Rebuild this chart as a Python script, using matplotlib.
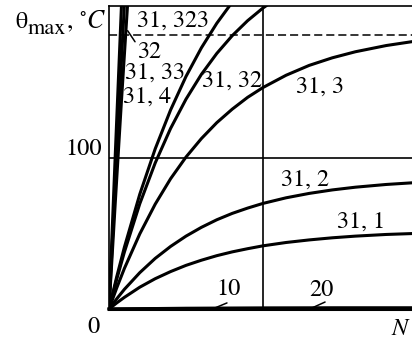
import matplotlib
matplotlib.use("Agg")
import matplotlib.pyplot as plt

plt.rcParams['font.family'] = ['STIXGeneral', 'DejaVu Serif']
plt.rcParams['mathtext.fontset'] = 'stix'

# Heating curves: maximum temperature vs. N, one curve per parameter value
n_slow = [0, 5, 10, 20, 30, 40, 50, 60, 70, 80, 90, 100, 115, 130, 145, 160, 180, 197]
theta_31_1 = [0, 4.0, 7.7, 14.4, 20.0, 24.7, 28.8, 32.2, 35.2, 37.7, 39.8, 41.7,
              43.9, 45.6, 47.0, 48.1, 49.2, 49.8]
theta_31_2 = [0, 6.7, 13.0, 24.0, 33.4, 41.3, 48.1, 53.9, 58.9, 63.1, 66.6, 69.7,
              73.4, 76.3, 78.6, 80.4, 82.2, 83.3]
theta_31_3 = [0, 13.9, 26.8, 49.6, 69.2, 86.0, 100.3, 112.5, 123.0, 131.9, 139.7,
              146.2, 154.3, 160.8, 165.8, 169.8, 173.9, 176.5]

n_mid = [0, 5, 10, 20, 30, 40, 50, 60, 70, 80, 90, 100, 110]
theta_31_32 = [0, 19.6, 37.6, 69.5, 96.4, 119.2, 138.5, 154.9, 168.7, 180.4, 190.3,
               198.7, 205.8]

n_323 = [0, 5, 10, 20, 30, 40, 50, 60, 70, 80]
theta_31_323 = [0, 21.2, 40.8, 75.8, 105.7, 131.4, 153.5, 172.4, 188.6, 202.5]

n_steep = [0, 4, 8, 12, 16]
theta_31_33 = [0, 69, 136, 200, 262]
theta_31_4 = [0, 82, 162, 240, 316]
theta_32 = [0, 100, 198, 294, 388]

n_flat = [0, 50, 100, 150, 197]
theta_10 = [0, 0.5, 0.7, 0.8, 0.8]
theta_20 = [0, 0.3, 0.4, 0.4, 0.4]

theta_limit = 180.8   # dashed level
n_ref = 100           # vertical reference line
theta_ref = 100       # horizontal reference line

curves = [
    (n_slow, theta_31_1), (n_slow, theta_31_2), (n_slow, theta_31_3),
    (n_mid, theta_31_32), (n_323, theta_31_323),
    (n_steep, theta_31_33), (n_steep, theta_31_4), (n_steep, theta_32),
]


def decimal(a, b):
    # decimal comma followed by a thin space, in the text font
    return r"$\mathregular{%s,\,%s}$" % (a, b)


labels = [
    (decimal(31, 323), 41.5, 190.1), ("32", 26.0, 169.6), (decimal(31, 33), 29.5, 155.8),
    (decimal(31, 4), 25.0, 139.9), (decimal(31, 32), 80.0, 150.5),
    (decimal(31, 3), 137.0, 146.5), (decimal(31, 2), 127.3, 85.1),
    (decimal(31, 1), 163.0, 57.4), ("10", 77.3, 13.2), ("20", 138.3, 12.5),
]

W, H = 412, 340
fig = plt.figure(figsize=(W / 100, H / 100), dpi=100)
ax = fig.add_axes([109 / W, 31 / H, 303 / W, 303 / H])
ax.set_xlim(0, 196.75)
ax.set_ylim(0, 200)

for n, th in curves:
    ax.plot(n, th, color='k', lw=2.2, solid_capstyle='round', solid_joinstyle='round')
for th in (theta_10, theta_20):
    ax.plot(n_flat, th, color='k', lw=2.2, clip_on=False)

ax.axhline(theta_ref, color='k', lw=1.2)
ax.axvline(n_ref, color='k', lw=1.2)
ax.axhline(theta_limit, color='k', lw=1.1, ls=(0, (5.3, 2.6)))

fs = 17.5
for txt, x, y in labels:
    ax.text(x, y, txt, fontsize=fs, ha='center', va='center')

leader = dict(arrowstyle='-', lw=1.1, color='k', shrinkA=0, shrinkB=0)
ax.annotate('', xy=(12.1, 183.7), xytext=(16.9, 176.4), arrowprops=leader)
ax.annotate('', xy=(68.8, 0.7), xytext=(76.6, 4.0), arrowprops=leader)
ax.annotate('', xy=(131.8, 0.7), xytext=(140.3, 4.6), arrowprops=leader)

ax.set_xticks([])
ax.set_yticks([])
ax.spines['right'].set_visible(False)
ax.spines['left'].set_linewidth(1.2)
ax.spines['top'].set_linewidth(1.2)
ax.spines['bottom'].set_linewidth(2.2)

fig.text(102 / W, 1 - 149 / H, "100", fontsize=fs, ha='right', va='center')
fig.text(94 / W, 1 - 327 / H, "0", fontsize=fs, ha='center', va='center')
fig.text(401 / W, 1 - 335 / H, "$N$", fontsize=fs, ha='center', va='baseline')

# axis title: θ_max, °C
fig.text(15 / W, 1 - 28 / H, "θ", fontsize=fs, ha='left', va='baseline')
fig.text(28 / W, 1 - 34 / H, "max", fontsize=16, ha='left', va='baseline')
fig.text(66 / W, 1 - 28 / H, r", $^{\circ}C$", fontsize=18.5, ha='left', va='baseline')

fig.savefig("out.png", dpi=100)
